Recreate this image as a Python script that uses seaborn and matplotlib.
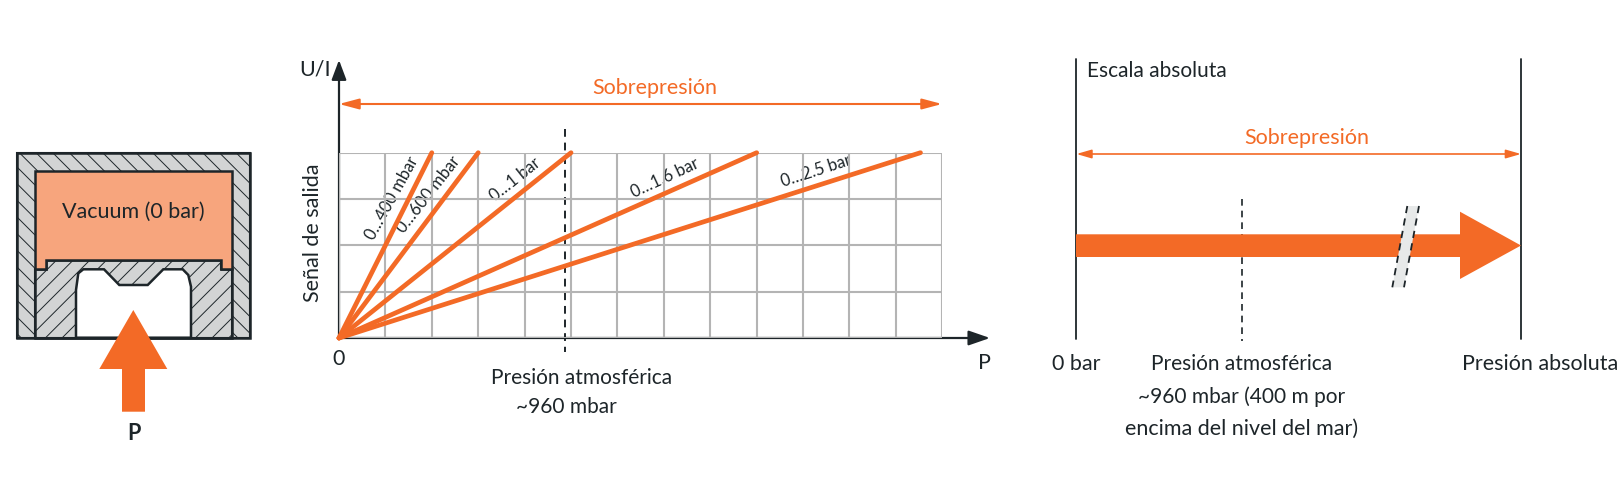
import pandas as pd
import seaborn as sns
import matplotlib.pyplot as plt
from matplotlib.patches import Polygon, FancyArrowPatch

sns.set_style("white")
plt.rcParams['font.family'] = ['Lato', 'Liberation Sans', 'DejaVu Sans']
plt.rcParams['hatch.linewidth'] = 0.7

ORANGE = '#f36a26'
PEACH = '#f7a57d'
DARK = '#1d2529'
GREY = '#b4b4b4'
HATCH_BG = '#d2d4d4'

W, H = 1621, 488

# chart values, x in grid cells, y in signal cells
range_labels = ['0…400 mbar', '0…600 mbar', '0…1 bar', '0…1.6 bar', '0…2.5 bar']
full_scale = [2.0, 3.0, 5.0, 9.0, 12.53]
signal_span = [0, 4]
n_cols = 13
n_rows = 4

# label placement in pixels: x, y, rotation
label_pos = [(392.5, 198, 61), (428.5, 195, 52), (515, 180, 38.5), (664.5, 177.7, 25), (815.7, 171, 18)]

# schematic outlines (pixels)
outer_box = [(17.3, 153.3), (250, 153.3), (250, 337.7), (17.3, 337.7)]
vacuum = [(35, 170.7), (232.3, 170.7), (232.3, 269.3), (221, 269.3), (221, 260),
          (46, 260), (46, 269.3), (35, 269.3)]
body = [(35, 269.3), (46, 269.3), (46, 260), (221, 260), (221, 269.3), (232.3, 269.3),
        (232.3, 337.7), (35, 337.7)]
cavity = [(76, 337.7), (76, 290), (78.3, 273.3), (83.3, 269.3), (104, 269.3), (119.3, 285),
          (147.7, 285), (163.3, 269.3), (182.7, 269.3), (188.3, 275), (191, 286.7), (191, 337.7)]
p_arrow = [(133.3, 310), (167.3, 369), (145, 369), (145, 411.7), (122, 411.7), (122, 369), (99.3, 369)]
big_arrow = [(1076, 234.3), (1460, 234.3), (1460, 211.7), (1521, 245.5), (1460, 279), (1460, 257), (1076, 257)]
break_band = [(1407.3, 206), (1419, 206), (1404, 287.3), (1392.3, 287.3)]

fig = plt.figure(figsize=(W / 100, H / 100), dpi=100)

# overlay in pixel coordinates for the drawings and free text
px = fig.add_axes([0, 0, 1, 1])
px.set_xlim(0, W)
px.set_ylim(H, 0)
px.axis('off')

# middle chart
left, right, top, bottom = 339, 942.3, 152.7, 338
ax = fig.add_axes([left / W, 1 - bottom / H, (right - left) / W, (bottom - top) / H])
ax.patch.set_alpha(0)
df = pd.DataFrame({
    'range': [r for r in range_labels for _ in signal_span],
    'pressure': [v for f in full_scale for v in (0, f)],
    'signal': signal_span * len(range_labels),
})
ax.set_xticks(range(n_cols + 1))
ax.set_yticks(range(n_rows + 1))
ax.grid(True, color=GREY, lw=1.5)
ax.set_axisbelow(True)
sns.lineplot(data=df, x='pressure', y='signal', units='range', estimator=None, color=ORANGE,
             lw=3.4, solid_capstyle='round', clip_on=False, zorder=5, ax=ax, legend=False)
ax.set_xlim(0, n_cols)
ax.set_ylim(0, n_rows)
ax.set_xlabel('')
ax.set_ylabel('')
ax.tick_params(labelbottom=False, labelleft=False, length=0)
sns.despine(ax=ax, left=True, bottom=True, top=True, right=True)


def txt(x, y, s, size=15.5, color=DARK, ha='center', **kw):
    px.text(x, y, s, fontsize=size, color=color, ha=ha, va='center', zorder=10, **kw)


def arrow(a, b, style, color=DARK, lw=1.5):
    px.add_patch(FancyArrowPatch(a, b, arrowstyle=style, mutation_scale=1, color=color,
                                 lw=lw, shrinkA=0, shrinkB=0, zorder=8))


for lab, (x, y, rot) in zip(range_labels, label_pos):
    txt(x, y, lab, size=12, rotation=rot, rotation_mode='anchor')

# chart axes and annotations
arrow((339, 338), (339, 60), '-|>,head_length=12,head_width=4.5', lw=1.6)
arrow((339, 338), (990, 338), '-|>,head_length=13,head_width=4.5', lw=1.6)
arrow((339, 104), (942, 104), '<|-|>,head_length=12,head_width=3.2', ORANGE, 1.5)
px.plot([565, 565], [129, 352], color=DARK, lw=1.4, ls=(0, (4, 3)), zorder=7)
txt(655, 88, 'Sobrepresión', color=ORANGE)
txt(315, 69, 'U/I', size=15.5)
txt(313, 233, 'Señal de salida', rotation=90)
txt(339, 359, '0')
txt(984, 363, 'P')
txt(582, 378, 'Presión atmosférica', size=15)
txt(566, 407, '~960 mbar', size=15)

# left schematic
px.add_patch(Polygon(outer_box, fc=HATCH_BG, ec=DARK, lw=1.5, hatch='\\\\', zorder=2))
px.add_patch(Polygon(outer_box, fc='none', ec=DARK, lw=1.8, zorder=3))
px.add_patch(Polygon(body, fc=HATCH_BG, ec=DARK, lw=1.5, hatch='//', zorder=3))
px.add_patch(Polygon(body, fc='none', ec=DARK, lw=1.8, zorder=4))
px.add_patch(Polygon(vacuum, fc=PEACH, ec=DARK, lw=1.8, zorder=4))
px.add_patch(Polygon(cavity, fc='white', ec=DARK, lw=1.8, zorder=5))
px.add_patch(Polygon(p_arrow, fc=ORANGE, ec='none', zorder=6))
txt(133.5, 212, 'Vacuum (0 bar)')
txt(133.5, 433.5, 'P', weight='bold')

# right scale
px.plot([1076.4, 1076.4], [59, 339], color=DARK, lw=1.3)
px.plot([1521, 1521], [59, 339], color=DARK, lw=1.3)
px.plot([1242, 1242], [198.5, 341], color=DARK, lw=1.2, ls=(0, (4, 3)))
arrow((1076.4, 154), (1521, 154), '<|-|>,head_length=9,head_width=2.6', ORANGE, 1.2)
px.add_patch(Polygon(big_arrow, fc=ORANGE, ec='none', zorder=3))
px.add_patch(Polygon(break_band, fc='#e7e9e9', ec='none', zorder=4))
px.plot([1407.3, 1392.3], [206, 287.3], color=DARK, lw=1.3, ls=(0, (4, 3)), zorder=5)
px.plot([1419, 1404], [206, 287.3], color=DARK, lw=1.3, ls=(0, (4, 3)), zorder=5)
txt(1087, 71, 'Escala absoluta', size=15, ha='left')
txt(1307, 137.5, 'Sobrepresión', color=ORANGE)
txt(1076, 364, '0 bar')
txt(1242, 364, 'Presión atmosférica', size=15)
txt(1242, 397, '~960 mbar (400 m por', size=15)
txt(1242, 429, 'encima del nivel del mar)')
txt(1540, 364, 'Presión absoluta')

fig.savefig('out.png', dpi=100)
